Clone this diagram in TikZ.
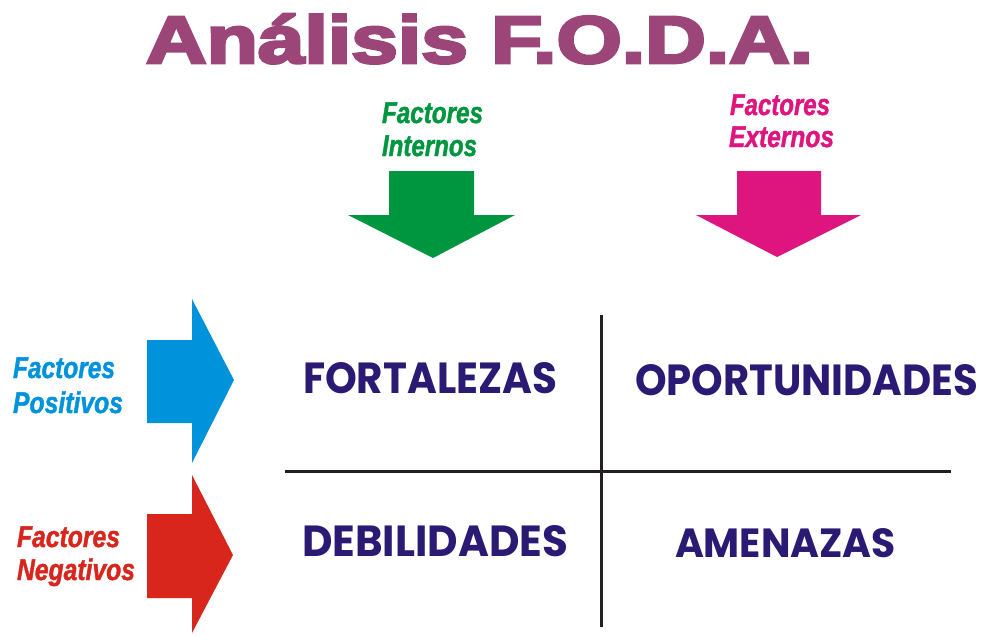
\documentclass[tikz,border=0pt]{standalone}
\usepackage{fontspec}
\usepackage{graphicx}
\setmainfont{Liberation Sans}
\newfontfamily\titlefont[FakeBold=4]{Liberation Sans Bold}
\newfontfamily\sidefont[FakeBold=1.5]{Liberation Sans Bold Italic}
\newfontfamily\gridfont{Poppins}
\definecolor{titlepurple}{RGB}{155,69,120}
\definecolor{intgreen}{RGB}{0,150,64}
\definecolor{extpink}{RGB}{222,21,126}
\definecolor{posblue}{RGB}{0,146,219}
\definecolor{negred}{RGB}{217,38,28}
\definecolor{navy}{RGB}{42,26,116}
\definecolor{ink}{RGB}{35,31,32}
\newcommand\fitw[2]{\resizebox{#1pt}{\height}{#2}}
\newcommand\fitwh[3]{\resizebox{#1pt}{#2pt}{#3}}
\begin{document}
\begin{tikzpicture}[x=1pt,y=1pt,
  lbl/.style={anchor=base west, inner sep=0pt, outer sep=0pt},
  side/.style={lbl, font=\sidefont\fontsize{30}{30}\selectfont},
  quad/.style={lbl, text=navy, font=\gridfont\bfseries\fontsize{30}{30}\selectfont},
  rule/.style={line width=3pt, draw=ink}]
\useasboundingbox (0,0) rectangle (983,-635);

% title
\node[lbl, text=titlepurple, font=\titlefont\fontsize{67}{67}\selectfont] (title) at (146,-63) {\fitw{667}{Análisis F.O.D.A.}};

% top arrows
\fill[intgreen] (389,-171) -- (474,-171) -- (474,-215) -- (515,-215) -- (433,-258) -- (348,-215) -- (389,-215) -- cycle;
\fill[extpink] (737,-171) -- (821,-171) -- (821,-215) -- (861,-215) -- (777,-257) -- (696,-215) -- (737,-215) -- cycle;

% side arrows
\fill[posblue] (147,-340) -- (192,-340) -- (192,-299) -- (234,-380) -- (192,-463) -- (192,-423) -- (147,-423) -- cycle;
\fill[negred] (147,-514) -- (192,-514) -- (192,-475) -- (233,-555) -- (192,-633) -- (192,-598) -- (147,-598) -- cycle;

% arrow labels
\node[side, text=intgreen] (int1) at (382,-123) {\fitw{101}{Factores}};
\node[side, text=intgreen] (int2) at (382,-156) {\fitw{95}{Internos}};
\node[side, text=extpink] (ext1) at (730,-115) {\fitw{100}{Factores}};
\node[side, text=extpink] (ext2) at (729,-147) {\fitw{105}{Externos}};
\node[side, text=posblue] (pos1) at (13,-378) {\fitw{102}{Factores}};
\node[side, text=posblue] (pos2) at (13,-413) {\fitw{110}{Positivos}};
\node[side, text=negred] (neg1) at (17,-547) {\fitw{103}{Factores}};
\node[side, text=negred] (neg2) at (17,-580) {\fitw{118}{Negativos}};

% grid
\coordinate (vtop) at (601,-315);
\coordinate (vbot) at (601,-627);
\coordinate (hl) at (285,-471);
\coordinate (hr) at (951,-471);
\draw[rule] (vtop) -- (vbot);
\draw[rule] (hl) -- (hr);

% quadrant labels
\node[quad] (F) at (303,-393) {\fitwh{254}{31}{FORTALEZAS}};
\node[quad] (O) at (635,-395) {\fitwh{343}{31}{OPORTUNIDADES}};
\node[quad] (D) at (302,-556) {\fitwh{266}{31}{DEBILIDADES}};
\node[quad] (A) at (675,-557) {\fitwh{221}{29}{AMENAZAS}};
\end{tikzpicture}
\end{document}
